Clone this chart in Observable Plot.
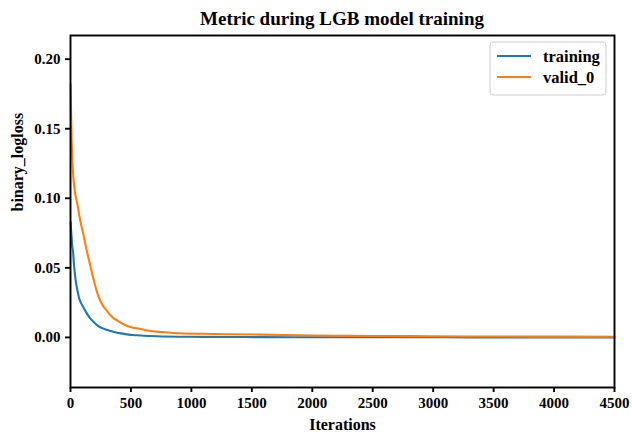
<!DOCTYPE html>
<html><head><meta charset="utf-8">
<script src="https://cdn.jsdelivr.net/npm/d3@7"></script>
<script src="https://cdn.jsdelivr.net/npm/@observablehq/plot@0.6"></script>
<style>
body{margin:0;background:#fff}
svg, svg text{font-family:"Liberation Serif","Times New Roman",serif !important;font-weight:bold}
</style>
</head><body><div id="chart"></div>
<script>
const iterations=[1,5,10,14,22,28,36,41,50,63,72,83,105,130,160,193,215,243,276,298,330,358,386,408,469,518,573,607,662,767,900,1100,1300,1572,2000,2316,2800,3300,3800,4500];
const training=[0.083,0.077,0.071,0.066,0.061,0.053,0.046,0.042,0.037,0.0314,0.028,0.0255,0.0218,0.018,0.014,0.011,0.0092,0.0075,0.0062,0.0055,0.0046,0.0039,0.0034,0.0031,0.0022,0.0017,0.0014,0.0012,0.001,0.0007,0.0005,0.0004,0.0003,0.0002,0.00015,0.0001,0.0001,0.00005,0.00004,0.00003];
const valid0=[0.182,0.16,0.14,0.13,0.117,0.111,0.105,0.102,0.0986,0.093,0.088,0.083,0.0746,0.064,0.053,0.041,0.0338,0.027,0.0218,0.0194,0.016,0.0137,0.0122,0.011,0.0082,0.007,0.0062,0.0055,0.0046,0.0038,0.003,0.0026,0.0023,0.002,0.0014,0.0011,0.0009,0.0007,0.0006,0.0005];
const seriesNames=["training","valid_0"];
const seriesColors=["#1f77b4","#ff7f0e"];
const xTicks=[0,500,1000,1500,2000,2500,3000,3500,4000,4500];
const yTicks=[0,0.05,0.1,0.15,0.2];
const titleText="Metric during LGB model training";

const FONT='"Liberation Serif","Times New Roman",serif';

const rows=iterations.flatMap((it,i)=>[
  {it,v:training[i],s:seriesNames[0]},
  {it,v:valid0[i],s:seriesNames[1]}
]);

const plot=Plot.plot({
  width:632,height:432,
  marginLeft:70,marginRight:18,marginTop:35,marginBottom:45,
  style:{fontFamily:FONT,fontSize:"15px",fontWeight:"bold",background:"white",color:"black"},
  x:{domain:[0,4500]},
  y:{domain:[-0.036,0.217]},
  color:{domain:seriesNames,range:seriesColors},
  marks:[
    Plot.line(rows,{x:"it",y:"v",stroke:"s",strokeWidth:2.1,curve:"monotone-x"}),
    Plot.frame({stroke:"black",strokeWidth:1.9}),
    Plot.axisX({ticks:xTicks,tickFormat:d3.format("d"),tickSize:5,tickPadding:5,strokeWidth:1.9,
      fontSize:15,fontFamily:FONT,fontWeight:"bold",label:null}),
    Plot.axisY({ticks:yTicks,tickFormat:d3.format(".2f"),tickSize:5,tickPadding:5,strokeWidth:1.9,
      fontSize:15,fontFamily:FONT,fontWeight:"bold",label:null}),
    Plot.text(["Iterations"],{frameAnchor:"bottom",dy:42,fontSize:16,fontFamily:FONT,fontWeight:"bold",fill:"black"}),
    Plot.text(["binary_logloss"],{frameAnchor:"left",dx:-53,rotate:-90,fontSize:16,fontFamily:FONT,fontWeight:"bold",fill:"black"})
  ]
});
document.getElementById("chart").appendChild(plot);

const svg=d3.select(plot);
svg.append("text").attr("x",342).attr("y",25).attr("text-anchor","middle")
  .attr("font-family",FONT).attr("font-size",19).attr("font-weight","bold").attr("fill","black").text(titleText);

const lg=svg.append("g");
lg.append("rect").attr("x",490).attr("y",42).attr("width",116).attr("height",53).attr("rx",3)
  .attr("fill","white").attr("fill-opacity",0.8).attr("stroke","#cccccc").attr("stroke-width",1);
seriesNames.forEach((name,i)=>{
  const y=56+i*21;
  lg.append("line").attr("x1",497).attr("x2",531).attr("y1",y).attr("y2",y)
    .attr("stroke",seriesColors[i]).attr("stroke-width",2.2);
  lg.append("text").attr("x",543).attr("y",y+5.5).attr("text-anchor","start").attr("font-family",FONT).attr("font-size",16.5)
    .attr("font-weight","bold").attr("fill","black").text(name);
});
</script>
</body></html>
